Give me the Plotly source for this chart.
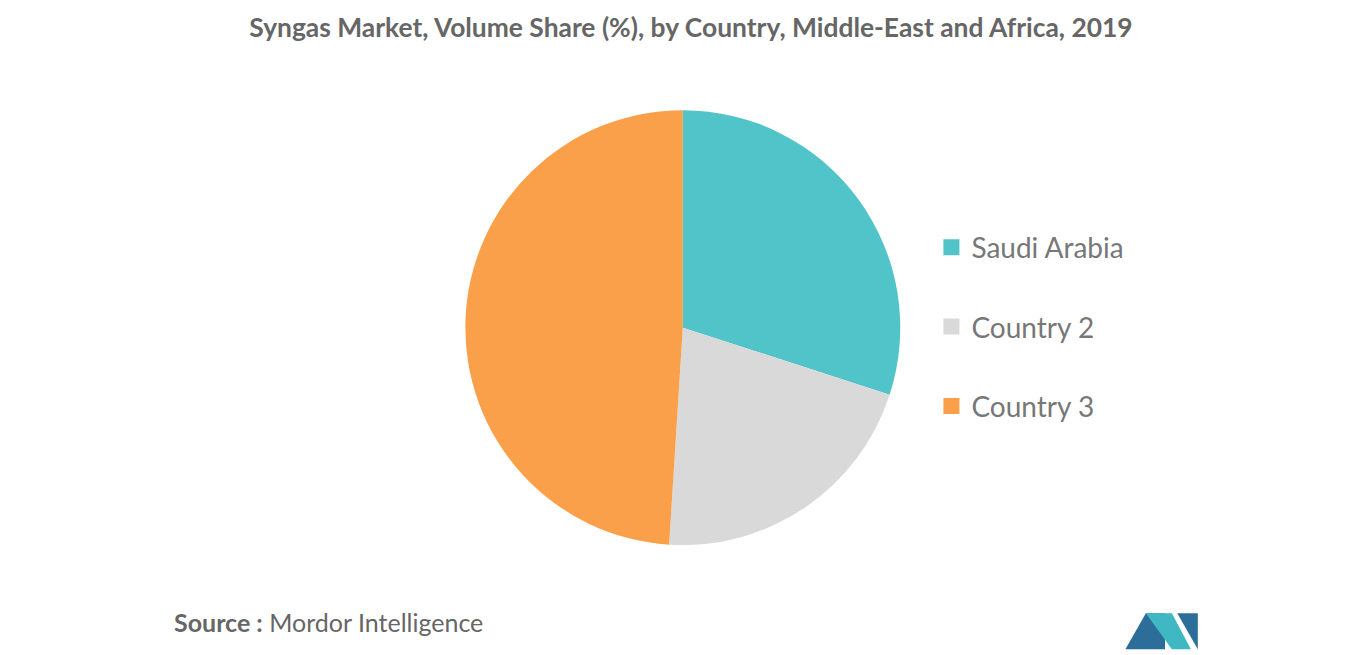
import plotly.graph_objects as go

labels = ["Saudi Arabia", "Country 2", "Country 3"]
values = [30, 21, 49]
colors = ["#50C4C9", "#D9D9D9", "#FAA04A"]

fig = go.Figure(go.Pie(labels=labels, values=values, sort=False, direction="clockwise",
                       rotation=0, marker=dict(colors=colors), textinfo="none",
                       hoverinfo="label+percent", showlegend=False,
                       domain=dict(x=[0.194, 0.794], y=[0.18, 0.844])))
for lab, col in zip(labels, colors):
    fig.add_trace(go.Scatter(x=[None], y=[None], mode="markers", name=lab, legendgroup=lab,
                             marker=dict(symbol="square", size=16, color=col)))
fig.update_xaxes(visible=False)
fig.update_yaxes(visible=False)
fig.update_layout(
    width=1366, height=655, paper_bgcolor="white", plot_bgcolor="white",
    margin=dict(l=0, r=0, t=0, b=0),
    title=dict(text="<b>Syngas Market, Volume Share (%), by Country, Middle-East and Africa, 2019</b>",
               x=0.5, y=0.97, xanchor="center", yanchor="middle",
               font=dict(family="Lato", size=26.4, color="#666666")),
    legend=dict(x=0.676, y=0.513, xanchor="left", yanchor="middle", traceorder="grouped",
                font=dict(family="Lato", size=28, color="#777777"), tracegroupgap=40),
    font=dict(family="Lato"),
)
fig.add_annotation(text="<b>Source :</b> Mordor Intelligence", x=0.12, y=0.062, xref="paper", yref="paper",
                   xanchor="left", yanchor="middle", showarrow=False,
                   font=dict(family="Lato", size=25, color="#666666"))
fig.add_shape(type="path", xref="paper", yref="paper",
              path="M 0.818 0.021 L 0.833 0.076 L 0.847 0.076 L 0.847 0.021 Z", fillcolor="#2C6E99", line_width=0)
fig.add_shape(type="path", xref="paper", yref="paper",
              path="M 0.833 0.076 L 0.852 0.021 L 0.866 0.021 L 0.852 0.076 Z", fillcolor="#3FB8C4", line_width=0)
fig.add_shape(type="path", xref="paper", yref="paper",
              path="M 0.856 0.076 L 0.871 0.021 L 0.871 0.076 Z", fillcolor="#2C6E99", line_width=0)
fig.write_html("out.html")
